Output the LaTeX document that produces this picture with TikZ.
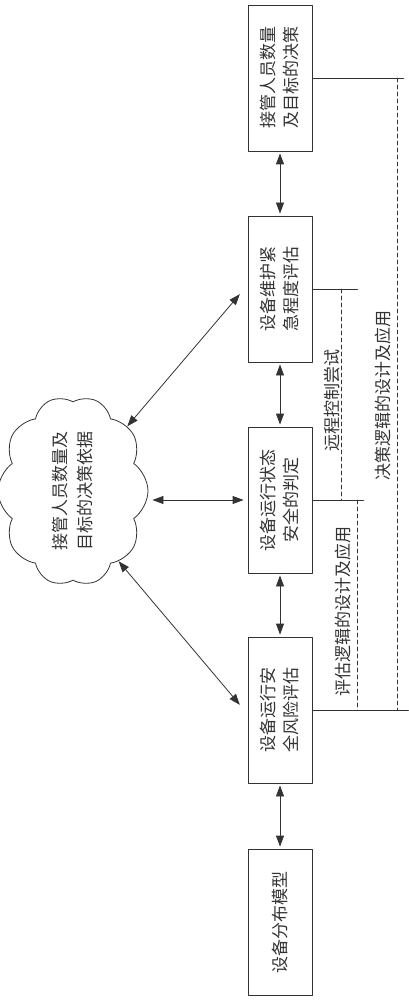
\documentclass[tikz,border=0pt]{standalone}
\usepackage{fontspec}
\setmainfont{Noto Sans CJK SC}
\usetikzlibrary{arrows.meta,shapes.symbols}
\begin{document}
\begin{tikzpicture}[x=1pt, y=-1pt, line cap=round, line join=round,
    every node/.style={font=\fontsize{17}{23}\selectfont, text=black!80},
    box/.style={draw=black!80, line width=0.8pt, rotate=90, align=center, minimum width=146pt, minimum height=64pt, inner sep=2pt},
    link/.style={{Triangle[length=11pt,width=8pt]}-{Triangle[length=11pt,width=8pt]}, draw=black!80, line width=0.8pt},
    brace/.style={draw=black!80, line width=0.7pt},
    guide/.style={draw=black!80, line width=0.7pt, dash pattern=on 4pt off 3pt}]
                \useasboundingbox (0,0) rectangle (408,1000);
                \node[box] (b1) at (280,78) {接管人员数量\\及目标的决策};
                \node[box] (b2) at (280,289) {设备维护紧\\急程度评估};
                \node[box] (b3) at (280,500) {设备运行状态\\安全的判定};
                \node[box] (b4) at (280,710) {设备运行安\\全风险评估};
                \node[box] (b5) at (280,922) {设备分布模型};
                \node[cloud, draw=black!80, line width=0.8pt, rotate=90, align=center, cloud puffs=10, cloud puff arc=110, cloud ignores aspect, minimum width=190pt, minimum height=150pt, inner sep=0pt] (cl) at (73,491) {接管人员数量及\\[2pt]目标的决策依据};
                \foreach \a/\b in {b1/b2, b2/b3, b3/b4, b4/b5}
                    \draw[link, shorten <=2pt, shorten >=2pt] (\a) -- (\b);
                \draw[link, shorten >=12pt] (cl.-40) -- ([yshift=4pt]b2.north);
                \draw[link, shorten <=4pt, shorten >=4pt] (cl.south |- b3.north) -- (b3.north);
                \draw[link, shorten >=12pt] (cl.-147) -- ([yshift=-4pt]b4.north);
                \coordinate (xr) at (341,0);
                \coordinate (xe) at (357,0);
                \coordinate (xd) at (397,0);
                \draw[brace] (b1.south) -- ++(91,0);
                \draw[brace] (b2.south) -- ++(45,0);
                \draw[brace] (b3.south) -- ++(51,0);
                \draw[brace] (b4.south) -- ++(96,0);
                \draw[guide] (b2.south -| xr) -- (b3.south -| xr);
                \draw[guide] (b3.south -| xe) -- (b4.south -| xe);
                \draw[guide] (b1.south -| xd) -- (b4.south -| xd);
                \node[rotate=90] (l1) at (332,400) {远程控制尝试};
                \node[rotate=90] (l2) at (343,611) {评估逻辑的设计及应用};
                \node[rotate=90] (l3) at (383,395) {决策逻辑的设计及应用};
\end{tikzpicture}
\end{document}
